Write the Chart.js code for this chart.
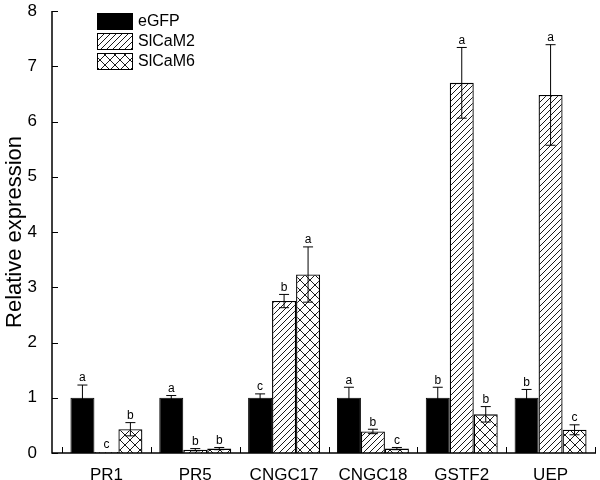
<!DOCTYPE html>
<html>
<head>
<meta charset="utf-8">
<script src="https://cdn.jsdelivr.net/npm/chart.js@4"></script>
<style>
  body { margin: 0; background: #fff; }
  canvas { display: block; }
</style>
</head>
<body>
<canvas id="chart" width="600" height="480"></canvas>
<script>
// Dữ liệu biểu đồ
const genes = ["PR1", "PR5", "CNGC17", "CNGC18", "GSTF2", "UEP"];
const seriesNames = ["eGFP", "SlCaM2", "SlCaM6"];

const egfpValues = [1.0, 1.0, 1.0, 1.0, 1.0, 1.0];
const egfpErrors = [0.23, 0.04, 0.07, 0.19, 0.19, 0.15];
const egfpLetters = ["a", "a", "c", "a", "b", "b"];

const cam2Values = [0.02, 0.06, 2.75, 0.39, 6.70, 6.48];
const cam2Errors = [0, 0.02, 0.12, 0.04, 0.64, 0.91];
const cam2Letters = ["c", "b", "b", "b", "a", "a"];

const cam6Values = [0.43, 0.08, 3.23, 0.08, 0.70, 0.42];
const cam6Errors = [0.12, 0.02, 0.50, 0.02, 0.14, 0.09];
const cam6Letters = ["b", "b", "a", "c", "b", "c"];

const yTicks = [0, 1, 2, 3, 4, 5, 6, 7, 8];

const FONT = "'Liberation Sans', Arial, sans-serif";

// Tạo mẫu gạch chéo
function makePattern(size, draw) {
  const c = document.createElement("canvas");
  c.width = size;
  c.height = size;
  const g = c.getContext("2d");
  g.fillStyle = "#fff";
  g.fillRect(0, 0, size, size);
  g.strokeStyle = "#000";
  g.lineWidth = 0.9;
  draw(g, size);
  return g.createPattern(c, "repeat");
}

const hatchPattern = makePattern(6, (g, s) => {
  g.beginPath();
  g.moveTo(-1, s + 1);
  g.lineTo(s + 1, -1);
  g.moveTo(-1, 1);
  g.lineTo(1, -1);
  g.moveTo(s - 1, s + 1);
  g.lineTo(s + 1, s - 1);
  g.stroke();
});

const crossPattern = makePattern(10, (g, s) => {
  g.beginPath();
  g.moveTo(0, 0);
  g.lineTo(s, s);
  g.moveTo(0, s);
  g.lineTo(s, 0);
  g.stroke();
});

const errorSets = [egfpErrors, cam2Errors, cam6Errors];
const letterSets = [egfpLetters, cam2Letters, cam6Letters];

// Trục, thanh sai số và chữ cái
const decorPlugin = {
  id: "decor",
  afterDatasetsDraw(chart) {
    const ctx = chart.ctx;
    const area = chart.chartArea;
    const x = chart.scales.x;
    const y = chart.scales.y;
    const axisX = area.left - 10;

    ctx.save();
    ctx.strokeStyle = "#000";
    ctx.fillStyle = "#000";

    // thanh sai số
    ctx.lineWidth = 1;
    chart.data.datasets.forEach((ds, i) => {
      const meta = chart.getDatasetMeta(i);
      meta.data.forEach((bar, j) => {
        const v = ds.data[j];
        const e = errorSets[i][j];
        const top = y.getPixelForValue(v + e);
        const bot = y.getPixelForValue(Math.max(v - e, 0));
        if (e > 0) {
          ctx.beginPath();
          ctx.moveTo(bar.x, top);
          ctx.lineTo(bar.x, bot);
          ctx.moveTo(bar.x - 5, top);
          ctx.lineTo(bar.x + 5, top);
          ctx.moveTo(bar.x - 5, bot);
          ctx.lineTo(bar.x + 5, bot);
          ctx.stroke();
        }
        ctx.font = "12px " + FONT;
        ctx.textAlign = "center";
        ctx.textBaseline = "bottom";
        ctx.fillText(letterSets[i][j], bar.x, top - 1);
      });
    });

    // trục
    ctx.lineWidth = 1.5;
    ctx.beginPath();
    ctx.moveTo(axisX, area.top);
    ctx.lineTo(axisX, area.bottom);
    ctx.lineTo(area.right + 1, area.bottom);
    ctx.stroke();

    ctx.lineWidth = 1;
    ctx.beginPath();
    yTicks.forEach((t) => {
      const py = Math.round(y.getPixelForValue(t)) + 0.5;
      ctx.moveTo(axisX, py);
      ctx.lineTo(axisX + 6, py);
    });
    for (let k = 0; k <= genes.length; k++) {
      const px = Math.round(x.getPixelForValue(k - 0.5)) + 0.5;
      ctx.moveTo(px, area.bottom);
      ctx.lineTo(px, area.bottom - 6);
    }
    ctx.stroke();

    // chú giải
    ctx.font = "16px " + FONT;
    ctx.textAlign = "left";
    ctx.textBaseline = "middle";
    chart.data.datasets.forEach((ds, i) => {
      const bx = 97, by = 13 + i * 20;
      ctx.fillStyle = ds.backgroundColor;
      ctx.fillRect(bx, by, 35, 16);
      ctx.lineWidth = 1;
      ctx.strokeStyle = "#000";
      ctx.strokeRect(bx + 0.5, by + 0.5, 35, 16);
      ctx.fillStyle = "#000";
      ctx.fillText(ds.label, bx + 41, by + 9);
    });
    ctx.restore();
  },
};

const ctx = document.getElementById("chart").getContext("2d");
new Chart(ctx, {
  type: "bar",
  data: {
    labels: genes,
    datasets: [
      {
        label: seriesNames[0],
        data: egfpValues,
        backgroundColor: "#000",
        borderColor: "#000",
        borderWidth: 1,
      },
      {
        label: seriesNames[1],
        data: cam2Values,
        backgroundColor: hatchPattern,
        borderColor: "#000",
        borderWidth: 1.3,
      },
      {
        label: seriesNames[2],
        data: cam6Values,
        backgroundColor: crossPattern,
        borderColor: "#000",
        borderWidth: 1.3,
      },
    ],
  },
  options: {
    responsive: false,
    animation: false,
    devicePixelRatio: 1,
    categoryPercentage: 0.81,
    barPercentage: 1.0,
    layout: {
      padding: { top: 0, right: 5, left: 0, bottom: 0 },
    },
    plugins: {
      legend: { display: false },
      tooltip: { enabled: false },
    },
    scales: {
      x: {
        grid: { display: false },
        border: { display: false },
        ticks: {
          color: "#000",
          font: { family: FONT, size: 17 },
          padding: 4,
        },
        afterFit: (s) => {
          s.height = 27;
        },
      },
      y: {
        min: 0,
        max: 8,
        grid: { display: false },
        border: { display: false },
        ticks: {
          stepSize: 1,
          color: "#000",
          font: { family: FONT, size: 17 },
          padding: 17,
        },
        title: {
          display: true,
          text: "Relative expression",
          color: "#000",
          font: { family: FONT, size: 22 },
          padding: 2,
        },
        afterFit: (s) => {
          s.width = 62;
          s.paddingTop = 11;
          s.paddingBottom = 0;
        },
      },
    },
  },
  plugins: [decorPlugin],
});
</script>
</body>
</html>
